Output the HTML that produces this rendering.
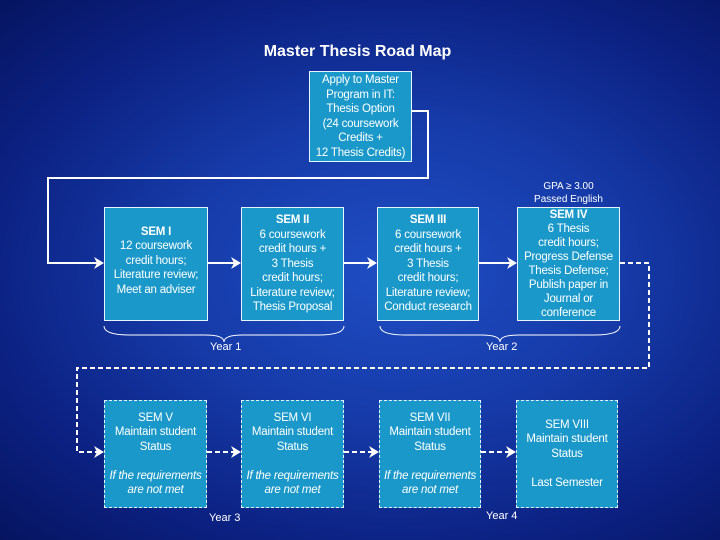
<!DOCTYPE html>
<html><head><meta charset="utf-8"><style>
body{margin:0;width:720px;height:540px;overflow:hidden;font-family:"Liberation Sans",sans-serif;}
#bg{position:absolute;left:0;top:0;width:720px;height:540px;background:radial-gradient(ellipse at 55% 50%,#1f4ec4 0%,#163aa8 40%,#0b2080 75%,#061460 100%);}
.b{position:absolute;background:#1a98c9;border:1px solid #e8f4ff;color:#fff;font-size:11.5px;letter-spacing:-0.2px;line-height:14.5px;text-align:center;box-sizing:border-box;display:flex;flex-direction:column;justify-content:center;white-space:nowrap;}
.d{border:1px dashed #e8f4ff;}
.t{position:absolute;color:#fff;font-size:11px;}
</style></head><body>
<div id="bg"></div>
<div class="t" style="left:0;width:715px;top:43px;text-align:center;font-size:16px;font-weight:bold;color:#fff">Master Thesis Road Map</div>
<svg width="720" height="540" style="position:absolute;left:0;top:0">
<g stroke="#fff" stroke-width="2" fill="none">
<polyline points="412,111 428,111 428,178 48,178 48,263 100,263"/>
<line x1="208" y1="263" x2="237" y2="263"/>
<line x1="344" y1="263" x2="373" y2="263"/>
<line x1="479" y1="263" x2="513" y2="263"/>
<g stroke-dasharray="5,3">
<polyline points="620,263 649,263 649,368 77,368 77,452 100,452"/>
<line x1="207" y1="452" x2="237" y2="452"/>
<line x1="344" y1="452" x2="375" y2="452"/>
<line x1="481" y1="452" x2="512" y2="452"/>
</g>
</g>
<g fill="#fff">
<polygon points="104,263 94,257 97,263 94,269"/>
<polygon points="241,263 231,257 234,263 231,269"/>
<polygon points="377,263 367,257 370,263 367,269"/>
<polygon points="517,263 507,257 510,263 507,269"/>
<polygon points="104,452 94,446 97,452 94,458"/>
<polygon points="241,452 231,446 234,452 231,458"/>
<polygon points="379,452 369,446 372,452 369,458"/>
<polygon points="516,452 506,446 509,452 506,458"/>
</g>
<g stroke="#fff" stroke-width="1" fill="none">
<path d="M104,326 Q104,335 130,335 L205,335 Q224,335 224,342 Q224,335 243,335 L318,335 Q344,335 344,326"/>
<path d="M380,326 Q380,335 406,335 L481,335 Q500,335 500,342 Q500,335 519,335 L594,335 Q620,335 620,326"/>
</g>
</svg>
<div class="b" style="left:309px;top:71px;width:103px;height:91px">Apply to Master<br>Program in IT:<br>Thesis Option<br>(24 coursework<br>Credits +<br>12 Thesis Credits)</div>
<div class="t" style="left:517px;width:103px;text-align:center;top:181px;font-size:10px;line-height:12.5px">GPA ≥ 3.00<br>Passed English</div>
<div class="b" style="left:104px;top:207px;width:104px;height:114px;padding-bottom:6px"><b>SEM I</b>12 coursework<br>credit hours;<br>Literature review;<br>Meet an adviser</div>
<div class="b" style="left:241px;top:207px;width:103px;height:114px"><b>SEM II</b>6 coursework<br>credit hours +<br>3 Thesis<br>credit hours;<br>Literature review;<br>Thesis Proposal</div>
<div class="b" style="left:377px;top:207px;width:102px;height:114px"><b>SEM III</b>6 coursework<br>credit hours +<br>3 Thesis<br>credit hours;<br>Literature review;<br>Conduct research</div>
<div class="b" style="left:517px;top:207px;width:103px;height:114px;line-height:14px"><b>SEM IV</b>6 Thesis<br>credit hours;<br>Progress Defense<br>Thesis Defense;<br>Publish paper in<br>Journal or<br>conference</div>
<div class="t" style="left:210px;top:341px">Year 1</div>
<div class="t" style="left:486px;top:341px">Year 2</div>
<div class="b d" style="left:104px;top:400px;width:103px;height:108px">SEM V<br>Maintain student<br>Status<br><br><i>If the requirements<br>are not met</i></div>
<div class="b d" style="left:241px;top:400px;width:103px;height:108px">SEM VI<br>Maintain student<br>Status<br><br><i>If the requirements<br>are not met</i></div>
<div class="b d" style="left:379px;top:400px;width:102px;height:108px">SEM VII<br>Maintain student<br>Status<br><br><i>If the requirements<br>are not met</i></div>
<div class="b d" style="left:516px;top:400px;width:102px;height:108px">SEM VIII<br>Maintain student<br>Status<br><br>Last Semester</div>
<div class="t" style="left:209px;top:512px">Year 3</div>
<div class="t" style="left:486px;top:510px">Year 4</div>
</body></html>
